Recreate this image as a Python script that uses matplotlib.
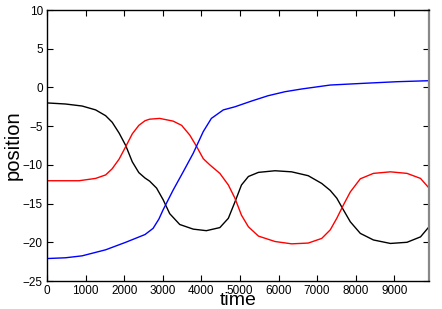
import matplotlib
matplotlib.use("Agg")
import matplotlib.pyplot as plt

plt.rcParams["font.family"] = ["Liberation Sans", "DejaVu Sans"]

black_t = [0, 480, 910, 1260, 1520, 1690, 1870, 2040, 2210, 2380, 2540, 2660,
           2840, 3010, 3180, 3440, 3790, 4130, 4480, 4700, 4870, 5040, 5220,
           5480, 5910, 6340, 6770, 7120, 7340, 7510, 7680, 7860, 8120, 8460,
           8900, 9330, 9680, 9900]
black_y = [-2.0, -2.14, -2.4, -2.9, -3.65, -4.5, -5.9, -7.5, -9.6, -11.0,
           -11.7, -12.1, -13.0, -14.5, -16.3, -17.7, -18.3, -18.5, -18.1,
           -16.9, -14.8, -12.6, -11.5, -10.97, -10.76, -10.9, -11.4, -12.4,
           -13.3, -14.3, -15.8, -17.35, -18.85, -19.7, -20.15, -20.0, -19.3,
           -18.0]

red_t = [0, 830, 1260, 1520, 1690, 1870, 2040, 2210, 2380, 2540, 2660, 2920,
         3270, 3490, 3700, 3880, 4050, 4220, 4480, 4700, 4870, 5040, 5220,
         5480, 5910, 6340, 6770, 7120, 7340, 7510, 7680, 7860, 8120, 8460,
         8900, 9330, 9680, 9900]
red_y = [-12.05, -12.05, -11.75, -11.3, -10.5, -9.25, -7.65, -6.0, -4.9, -4.3,
         -4.1, -4.0, -4.35, -4.9, -6.15, -7.65, -9.2, -10.0, -11.1, -12.6,
         -14.3, -16.5, -18.0, -19.2, -19.9, -20.2, -20.1, -19.5, -18.4, -16.9,
         -15.2, -13.5, -11.8, -11.1, -10.9, -11.1, -11.75, -13.0]

blue_t = [0, 480, 910, 1520, 2040, 2540, 2750, 2900, 3010, 3270, 3530, 3790,
          4050, 4260, 4570, 4870, 5300, 5730, 6170, 6600, 7340, 8200, 9070,
          9900]
blue_y = [-22.1, -22.0, -21.75, -20.97, -20.0, -19.0, -18.2, -17.0, -15.8,
          -13.25, -10.9, -8.5, -5.7, -4.0, -2.9, -2.5, -1.76, -1.07, -0.55,
          -0.2, 0.31, 0.53, 0.74, 0.87]

xticks = [0, 1000, 2000, 3000, 4000, 5000, 6000, 7000, 8000, 9000]
yticks = [10, 5, 0, -5, -10, -15, -20, -25]

fig = plt.figure(figsize=(4.42, 3.09), dpi=100)
ax = fig.add_axes([0.1063, 0.0906, 0.8643, 0.877])

ax.plot(black_t, black_y, color="black", lw=1.0)
ax.plot(red_t, red_y, color="red", lw=1.0)
ax.plot(blue_t, blue_y, color="blue", lw=1.0)

ax.set_xlim(0, 9900)
ax.set_ylim(-25, 10)
ax.set_xticks(xticks)
ax.set_yticks(yticks)
ax.tick_params(direction="in", length=4, width=0.8, labelsize=8.5,
               top=True, right=True, pad=3)
for s in ax.spines.values():
    s.set_linewidth(1.0)
ax.spines["right"].set_color("#888888")
ax.spines["right"].set_linewidth(1.6)

ax.set_xlabel("time", fontsize=14, labelpad=-4)
ax.set_ylabel("position", fontsize=14.5, labelpad=0)

fig.savefig("out.png", dpi=100)
